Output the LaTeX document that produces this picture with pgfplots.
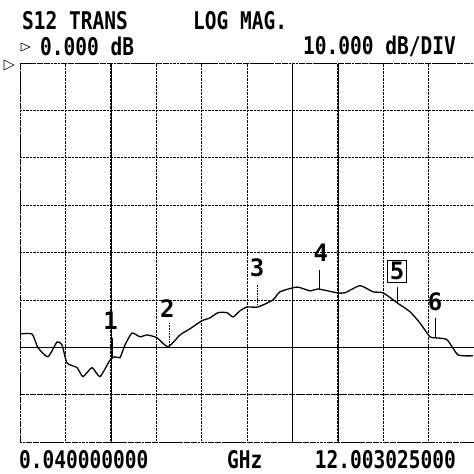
\documentclass[border=0pt]{standalone}
\usepackage{pgfplots}
\pgfplotsset{compat=1.18}
\usepackage{pgfplotstable}
\usepackage{fontspec}
\newfontfamily\mono{DejaVu Sans Mono}
\pgfplotstableread{
f dB
0.04 -57.2
0.356 -57.2
0.514 -60.1
0.778 -62.0
1.015 -58.9
1.147 -59.5
1.278 -63.3
1.542 -64.3
1.700 -66.2
1.937 -64.3
2.148 -66.2
2.411 -62.7
2.543 -62.0
2.675 -62.2
2.807 -59.5
2.991 -57.0
3.202 -57.8
3.387 -57.4
3.650 -58.0
3.940 -59.9
4.256 -57.4
4.520 -56.1
4.836 -54.4
5.047 -53.8
5.257 -52.7
5.494 -52.7
5.653 -53.6
5.837 -52.3
6.022 -51.5
6.312 -51.5
6.707 -50.0
6.891 -48.3
7.339 -47.3
7.682 -48.1
7.892 -47.7
8.393 -48.5
8.604 -48.5
9.000 -47.0
9.341 -48.3
9.605 -48.5
9.974 -50.6
10.316 -52.5
10.580 -54.9
10.844 -57.8
10.975 -58.0
11.291 -58.4
11.581 -61.6
11.977 -61.8
}\trace
\newcommand{\hdr}[1]{\scalebox{1}[1.25]{\mono\bfseries\fontsize{19.5}{20}\selectfont #1}}
\newcommand{\mk}[1]{{\mono\bfseries\fontsize{24}{24}\selectfont #1}}
\begin{document}
\begin{tikzpicture}[x=1pt,y=1pt]
\path[use as bounding box] (0,0) rectangle (474,474);
\begin{axis}[
  at={(20pt,32pt)}, anchor=south west,
  scale only axis, width=454pt, height=379pt,
  xmin=0.04, xmax=12.003025, ymin=-80, ymax=0,
  xtick={0.04,1.2363,2.4326,3.6289,4.8252,6.0215,7.2178,8.4141,9.6104,10.8067,12.003025},
  ytick={-80,-70,-60,-50,-40,-30,-20,-10,0},
  xticklabels={}, yticklabels={},
  major tick length=0pt,
  grid=major,
  major grid style={black, densely dotted, line width=0.7pt},
  axis line style={black, densely dotted, line width=0.7pt},
  clip=false,
]
\draw[black, line width=0.6pt] (axis cs:2.4326,-80) -- (axis cs:2.4326,0);
\draw[black, line width=0.6pt] (axis cs:7.2178,-80) -- (axis cs:7.2178,0);
\draw[black, line width=0.6pt] (axis cs:8.4141,-80) -- (axis cs:8.4141,0);
\draw[black, line width=0.6pt] (axis cs:0.04,-60) -- (axis cs:12.003025,-60);
\draw[black, dashed, line width=0.6pt] (axis cs:0.04,-70) -- (axis cs:12.003025,-70);
\addplot[black, line width=1.3pt, smooth, tension=0.35, mark=none] table[x=f,y=dB] {\trace};
% marker ticks
\draw[black, line width=0.5pt] (axis cs:2.464,-58.0) -- (axis cs:2.464,-62.2);
\draw[black, densely dotted, line width=0.6pt] (axis cs:3.966,-54.9) -- (axis cs:3.966,-59.9);
\draw[black, densely dotted, line width=0.6pt] (axis cs:6.285,-46.8) -- (axis cs:6.285,-51.1);
\draw[black, line width=0.5pt] (axis cs:7.92,-43.7) -- (axis cs:7.92,-47.7);
\draw[black, line width=0.5pt] (axis cs:9.974,-47.3) -- (axis cs:9.974,-50.6);
\draw[black, line width=0.5pt] (axis cs:10.975,-53.8) -- (axis cs:10.975,-58.0);
\node at (axis cs:2.43,-54.4) {\mk{1}};
\node at (axis cs:3.92,-51.9) {\mk{2}};
\node at (axis cs:6.285,-43.2) {\mk{3}};
\node at (axis cs:7.97,-40.1) {\mk{4}};
\node[draw=black, line width=0.6pt, inner sep=2pt] at (axis cs:9.974,-43.9) {\mk{5}};
\node at (axis cs:10.975,-50.4) {\mk{6}};
\end{axis}
\node[anchor=west, inner sep=0pt] at (22,453) {\hdr{S12 TRANS}};
\node[anchor=west, inner sep=0pt] at (193,453) {\hdr{LOG MAG.}};
\draw[black, line width=0.6pt] (21,431) -- (30,427) -- (21,423) -- cycle;
\node[anchor=west, inner sep=0pt] at (40,428) {\hdr{0.000 dB}};
\node[anchor=east, inner sep=0pt] at (456,428) {\hdr{10.000 dB/DIV}};
\draw[black, line width=0.6pt] (4,414) -- (14,409) -- (4,404) -- cycle;
\node[anchor=west, inner sep=0pt] at (19,14) {\hdr{0.040000000}};
\node[anchor=west, inner sep=0pt] at (227,14) {\hdr{GHz}};
\node[anchor=east, inner sep=0pt] at (456,14) {\hdr{12.003025000}};
\end{tikzpicture}
\end{document}
